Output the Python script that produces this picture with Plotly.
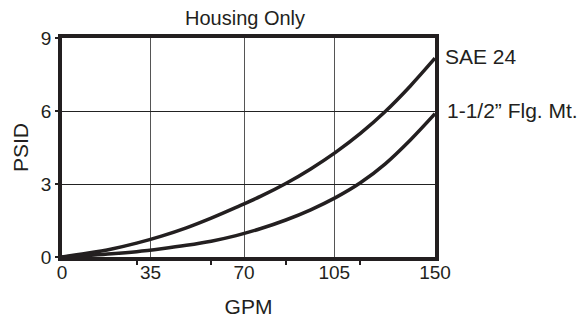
import plotly.graph_objects as go

# ---- data ----
gpm = [0, 10, 20, 30, 40, 50, 60, 70, 80, 90, 100, 110, 120, 130, 140, 150]
sae_psid = [0, 0.15, 0.33, 0.57, 0.86, 1.2, 1.6, 2.04, 2.5, 3.02, 3.62, 4.3, 5.08, 5.98, 7.02, 8.17]
flg_psid = [0, 0.06, 0.13, 0.22, 0.34, 0.48, 0.65, 0.88, 1.17, 1.52, 1.94, 2.44, 3.05, 3.83, 4.8, 5.89]

series_names = ["SAE 24", "1-1/2\u201d Flg. Mt."]

x_tick_labels = ["0", "35", "70", "105", "150"]
x_tick_vals = [0, 35.6, 73.2, 109.5, 150]
x_minor_vals = [30, 60, 90, 120]
y_tick_vals = [0, 3, 6, 9]

title_text = "Housing Only"
x_title = "GPM"
y_title = "PSID"

INK = "#231f20"
FONT = "Liberation Sans, Arial, sans-serif"

fig = go.Figure()
for ys in [sae_psid, flg_psid]:
    fig.add_trace(go.Scatter(
        x=gpm, y=ys, mode="lines",
        line=dict(color=INK, width=3.5, shape="spline", smoothing=1.0),
        showlegend=False, hoverinfo="skip",
    ))

# page body adds an 8px margin, so the figure is sized to the visible area
fig.update_layout(
    width=578, height=312,
    margin=dict(l=54, r=151, t=30, b=63, pad=0),
    paper_bgcolor="white", plot_bgcolor="white",
    font=dict(family=FONT, color=INK, size=19),
    showlegend=False,
)

fig.update_xaxes(
    range=[0, 150], tickmode="array", tickvals=x_tick_vals, ticktext=x_tick_labels,
    ticks="outside", ticklen=2, tickcolor="rgba(0,0,0,0)",
    ticklabelstandoff=-7,
    tickfont=dict(size=19, family=FONT, color=INK),
    showgrid=True, gridcolor="#555555", gridwidth=1,
    showline=True, linecolor=INK, linewidth=3.5, mirror=True,
    zeroline=False, automargin=False,
    minor=dict(tickmode="array", tickvals=x_minor_vals, ticks="outside",
               ticklen=4, tickwidth=1.5, tickcolor=INK, showgrid=False),
    title=dict(text=x_title, font=dict(size=21, family=FONT, color=INK), standoff=19),
)
fig.update_yaxes(
    range=[0, 9], tickmode="array", tickvals=y_tick_vals,
    ticks="outside", ticklen=3, tickcolor=INK, tickwidth=1.5,
    tickfont=dict(size=19, family=FONT, color=INK),
    showgrid=True, gridcolor="#222222", gridwidth=1,
    showline=True, linecolor=INK, linewidth=3.5, mirror=True,
    zeroline=False, automargin=False,
    title=dict(text=y_title, font=dict(size=21, family=FONT, color=INK), standoff=8),
)

fig.add_annotation(text=title_text, xref="paper", yref="paper", x=0.49, y=1.0,
                   xanchor="center", yanchor="bottom", yshift=7, showarrow=False,
                   font=dict(size=20, family=FONT, color=INK))

fig.add_annotation(text=series_names[0], xref="x", yref="y", x=gpm[-1], y=sae_psid[-1],
                   xanchor="left", yanchor="middle", xshift=8, yshift=2, showarrow=False,
                   font=dict(size=21, family=FONT, color=INK))
fig.add_annotation(text=series_names[1], xref="x", yref="y", x=gpm[-1], y=flg_psid[-1],
                   xanchor="left", yanchor="middle", xshift=10, yshift=3, showarrow=False,
                   font=dict(size=21, family=FONT, color=INK))

fig.write_html("out.html")
